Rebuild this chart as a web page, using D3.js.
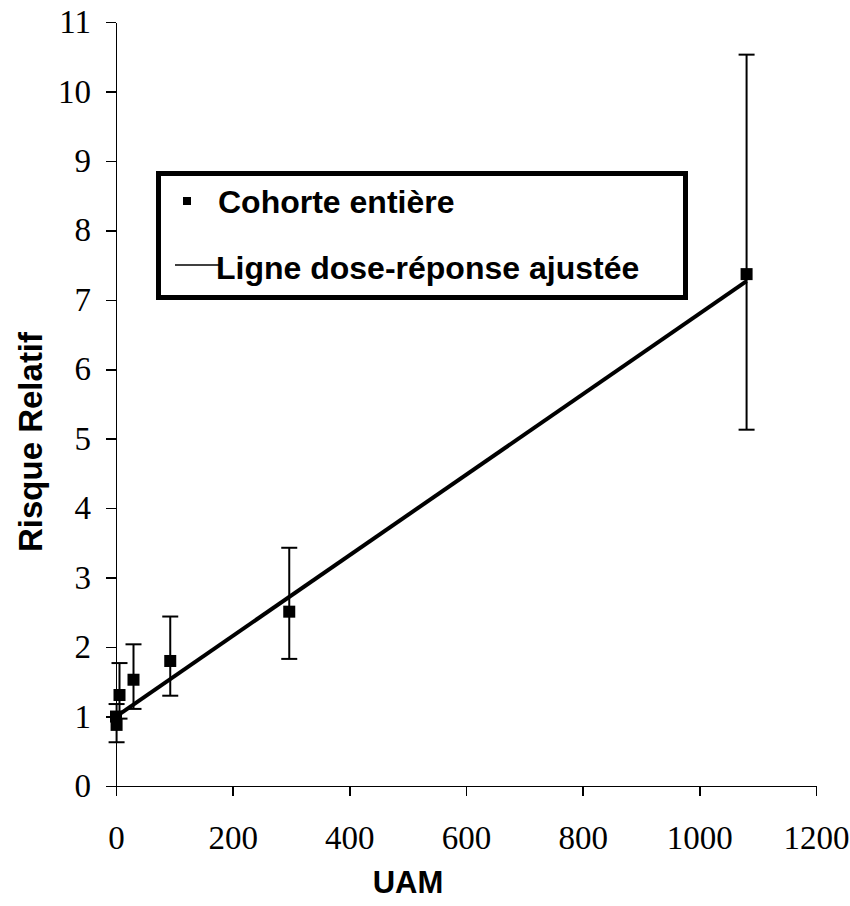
<!DOCTYPE html>
<meta charset="utf-8">
<style>
body { margin: 0; background: #fff; }
.axis path, .axis line { stroke: #000; stroke-width: 1.5px; shape-rendering: crispEdges; }
.axis text { font-family: "Liberation Serif", "Times New Roman", serif; font-size: 33px; fill: #000; }
.title { font-family: "Liberation Sans", Arial, sans-serif; font-weight: bold; fill: #000; }
</style>
<body>
<script src="https://cdn.jsdelivr.net/npm/d3@7"></script>
<script>

// observed points (UAM, relative risk, confidence interval)
var uam   = [0, 1, 6, 30, 93, 297, 1081];
var rr    = [1.0, 0.88, 1.31, 1.53, 1.80, 2.51, 7.37];
var lower = [null, 0.63, 0.97, 1.11, 1.30, 1.83, 5.13];
var upper = [null, 1.18, 1.77, 2.04, 2.44, 3.43, 10.53];

// fitted dose-response line
var fitX = [0, 1081];
var fitY = [1.0, 7.27];

var xTicks = [0, 200, 400, 600, 800, 1000, 1200];
var yTicks = [0, 1, 2, 3, 4, 5, 6, 7, 8, 9, 10, 11];

var width = 850, height = 906;

var svg = d3.select("body").append("svg")
    .attr("width", width)
    .attr("height", height);

var x = d3.scaleLinear().domain([0, 1200]).range([116, 816]);
var y = d3.scaleLinear().domain([0, 11]).range([786, 22]);

svg.append("g")
    .attr("class", "x axis")
    .attr("transform", "translate(0,786)")
    .call(d3.axisBottom(x).tickValues(xTicks).tickFormat(d3.format("d"))
        .tickSize(10).tickSizeOuter(0).tickPadding(30));

svg.append("g")
    .attr("class", "y axis")
    .attr("transform", "translate(116,0)")
    .call(d3.axisLeft(y).tickValues(yTicks).tickFormat(d3.format("d"))
        .tickSize(10).tickSizeOuter(0).tickPadding(15));

// error bars
var pts = uam.map(function(d, i) { return {x: d, y: rr[i], lo: lower[i], hi: upper[i]}; });
var bars = svg.append("g").attr("stroke", "#000").attr("stroke-width", 2);
pts.filter(function(d) { return d.lo != null; }).forEach(function(d) {
    var cx = x(d.x);
    bars.append("line").attr("x1", cx).attr("x2", cx).attr("y1", y(d.lo)).attr("y2", y(d.hi));
    bars.append("line").attr("x1", cx - 8).attr("x2", cx + 8).attr("y1", y(d.lo)).attr("y2", y(d.lo));
    bars.append("line").attr("x1", cx - 8).attr("x2", cx + 8).attr("y1", y(d.hi)).attr("y2", y(d.hi));
});

// fitted line
svg.append("path")
    .datum(fitX.map(function(d, i) { return [d, fitY[i]]; }))
    .attr("fill", "none")
    .attr("stroke", "#000")
    .attr("stroke-width", 4)
    .attr("d", d3.line().x(function(d) { return x(d[0]); }).y(function(d) { return y(d[1]); }));

// markers
svg.append("g").selectAll("rect")
    .data(pts)
  .enter().append("rect")
    .attr("x", function(d) { return x(d.x) - 6; })
    .attr("y", function(d) { return y(d.y) - 6; })
    .attr("width", 12)
    .attr("height", 12)
    .attr("fill", "#000");

// axis titles
svg.append("text")
    .attr("class", "title")
    .attr("x", 408)
    .attr("y", 893)
    .attr("text-anchor", "middle")
    .style("font-size", "31px")
    .text("UAM");

svg.append("text")
    .attr("class", "title")
    .attr("transform", "translate(42,442) rotate(-90)")
    .attr("text-anchor", "middle")
    .style("font-size", "33px")
    .text("Risque Relatif");

// legend
var legend = svg.append("g");
legend.append("rect")
    .attr("x", 158.5).attr("y", 173.5)
    .attr("width", 527).attr("height", 124)
    .attr("fill", "#fff")
    .attr("stroke", "#000")
    .attr("stroke-width", 5);

legend.append("rect")
    .attr("x", 183).attr("y", 197)
    .attr("width", 8).attr("height", 8)
    .attr("fill", "#000");

legend.append("text")
    .attr("class", "title")
    .attr("x", 218).attr("y", 213)
    .style("font-size", "32px")
    .text("Cohorte entière");

legend.append("line")
    .attr("x1", 175).attr("x2", 220)
    .attr("y1", 265).attr("y2", 265)
    .attr("stroke", "#000")
    .attr("stroke-width", 1.5);

legend.append("text")
    .attr("class", "title")
    .attr("x", 216).attr("y", 279)
    .style("font-size", "32px")
    .text("Ligne dose-réponse ajustée");

</script>
</body>
</html>
